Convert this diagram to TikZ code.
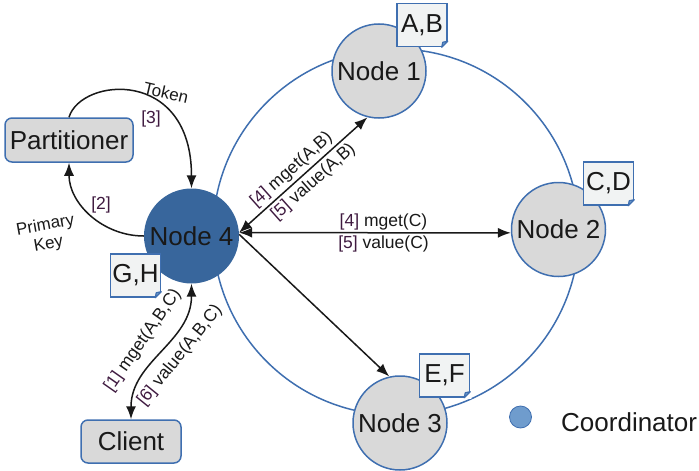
\documentclass[tikz,border=0pt]{standalone}
\usepackage{fontspec}
\setmainfont{Liberation Sans}
\usepackage{xcolor}
\usetikzlibrary{arrows.meta,calc}

\definecolor{ringblue}{HTML}{3F6FB0}
\definecolor{hubblue}{HTML}{38669C}
\definecolor{dotblue}{HTML}{6F9CCD}
\definecolor{nodegrey}{HTML}{D9D9D9}
\definecolor{notefill}{HTML}{F1F3F3}
\definecolor{tagpurple}{HTML}{3F1A40}

\newcommand{\tagno}[1]{\textcolor{tagpurple}{[#1]}}
\newcommand{\foldcorner}[1]{
  \fill[white] ($(#1.south east)+(-7,1)$) -- ($(#1.south east)+(1,1)$) -- ($(#1.south east)+(1,-7)$) -- cycle;
  \draw[ringblue, fill=dotblue, line width=1.2pt, line join=round] ($(#1.south east)+(-6,0)$) -- ($(#1.south east)+(-5,-5)$) -- ($(#1.south east)+(0,-6)$) -- cycle;
}

\tikzset{
  ring/.style={circle, draw=ringblue, line width=1.5pt, minimum size=366pt, inner sep=0pt},
  replica/.style={circle, draw=ringblue, fill=nodegrey, line width=1.5pt, minimum size=94pt, inner sep=0pt, font=\fontsize{26}{26}\selectfont, text=black!90},
  hub/.style={circle, fill=hubblue, minimum size=95pt, inner sep=0pt, font=\fontsize{26}{26}\selectfont, text=black!90},
  proc/.style={rectangle, rounded corners=7pt, draw=ringblue, fill=nodegrey, line width=1.5pt, inner sep=0pt, font=\fontsize{26}{26}\selectfont, text=black!90},
  keys/.style={rectangle, draw=ringblue, fill=notefill, line width=1.5pt, minimum width=50pt, minimum height=43pt, inner sep=0pt, font=\fontsize{26}{26}\selectfont, text=black!90},
  msg/.style={font=\fontsize{17.5}{17.5}\selectfont, text=black!90, inner sep=0pt},
  note/.style={font=\fontsize{17}{19}\selectfont, text=black!90, inner sep=0pt, align=center},
  link/.style={line width=1.5pt, black!90, -{Latex[length=13pt,width=10pt]}},
  biglink/.style={line width=1.5pt, black!90, {Latex[length=13pt,width=10pt]}-{Latex[length=13pt,width=10pt]}}
}

\begin{document}
\begin{tikzpicture}[x=1pt,y=-1pt]
  \useasboundingbox (0,0) rectangle (699,471);

  \node[ring] (r) at (396,232) {};

  \node[replica] (n1) at (379,71) {Node 1};
  \node[replica] (n2) at (558.5,229.5) {Node 2};
  \node[replica] (n3) at (400,423) {Node 3};
  \node[hub] (n4) at (191.5,236) {Node 4};

  \node[proc, minimum width=128pt, minimum height=44pt] (part) at (69,140) {Partitioner};
  \node[proc, minimum width=100pt, minimum height=43pt] (cl) at (131,441.5) {Client};

  \node[keys] (k1) at (422,25) {A,B};
  \node[keys] (k2) at (608.5,183.5) {C,D};
  \node[keys] (k3) at (444.5,375.5) {E,F};
  \node[keys] (k4) at (135.5,275.5) {G,H};
  \foldcorner{k1}
  \foldcorner{k2}
  \foldcorner{k3}
  \foldcorner{k4}

  \draw[link] (n4.west) to[out=180,in=-90] (part.south);
  \draw[link] (part.north) .. controls ($(part.north)+(12,-40)$) and ($(n4.north)+(0,-121)$) .. (n4.north);
  \draw[biglink] (n4.south) to[out=-90,in=90] (cl.north);
  \draw[biglink] (n4.4) -- (n1.256);
  \draw[biglink] (n4.4) -- (n2.184);
  \draw[link] (n4.2) -- (n3.103);

  \node[msg] (l1) at ($(n4)+(100,-66)$) [rotate=41.7] {\tagno{4} mget(A,B)};
  \node[msg] (l2) at ($(n4)+(122,-54)$) [rotate=41.7] {\tagno{5} value(A,B)};
  \node[msg] (l3) at ($(n4)+(192,-14)$) {\tagno{4} mget(C)};
  \node[msg] (l4) at ($(n4)+(192,8)$) {\tagno{5} value(C)};
  \node[msg] (l5) at ($(cl)+(12,-101)$) [rotate=55] {\tagno{1} mget(A,B,C)};
  \node[msg] (l6) at ($(cl)+(49,-86)$) [rotate=51] {\tagno{6} value(A,B,C)};
  \node[msg] (l7) at ($(part)+(82,-21)$) {\tagno{3}};
  \node[msg] (l8) at ($(part)+(32,65)$) {\tagno{2}};

  \node[note, rotate=-13] (l9) at ($(part)+(97,-47)$) {Token};
  \node[note, rotate=10] (l10) at ($(part)+(-22,95)$) {Primary\\Key};

  \node[circle, draw=ringblue, fill=dotblue, line width=0.8pt, minimum width=19pt, minimum height=22pt, inner sep=0pt] (dot) at (520.5,417) {};
  \node[right=0pt, inner sep=0pt, font=\fontsize{26}{26}\selectfont, text=black!90] (coord) at (561,422) {Coordinator};
\end{tikzpicture}
\end{document}
